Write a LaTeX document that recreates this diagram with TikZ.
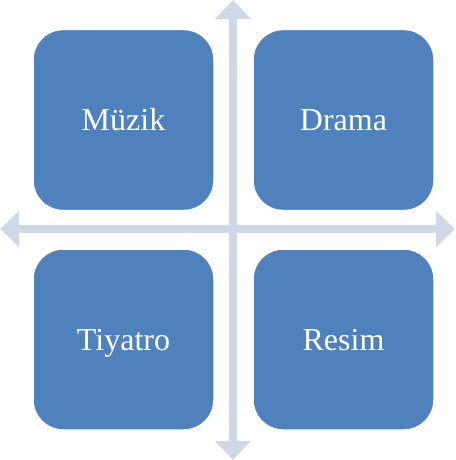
\documentclass[tikz,border=0pt]{standalone}
\usepackage{fontspec}
\setmainfont{Liberation Serif}
\usepackage{xcolor}
\definecolor{qblue}{RGB}{79,129,189}
\definecolor{qcross}{RGB}{208,216,232}
\usetikzlibrary{arrows.meta, positioning}

\begin{document}
\begin{tikzpicture}[x=1pt, y=-1pt,
  quad/.style={draw=white, line width=1.5pt, fill=qblue, rounded corners=30pt,
      minimum width=181pt, minimum height=181pt, inner sep=0pt,
      text height=21pt, text depth=0pt,
      text=white, font=\fontsize{32}{38}\selectfont},
  crossarrow/.style={qcross, line width=8pt, {Triangle[width=35pt, length=19pt]}-{Triangle[width=35pt, length=19pt]}}]

\useasboundingbox (0,0) rectangle (455,460);

% Cross end points
\coordinate (top) at (233,0);
\coordinate (bottom) at (233,460);
\coordinate (left) at (0,229);
\coordinate (right) at (455,229);

% Cross
\draw[crossarrow] (top) -- (bottom);
\draw[crossarrow] (left) -- (right);

% Quadrants
\node[quad] (muzik) at (123.5,120) {Müzik};
\node[quad] (drama) at (343.5,120) {Drama};
\node[quad] (tiyatro) at (123.5,339.5) {Tiyatro};
\node[quad] (resim) at (343.5,339.5) {Resim};

\end{tikzpicture}
\end{document}
